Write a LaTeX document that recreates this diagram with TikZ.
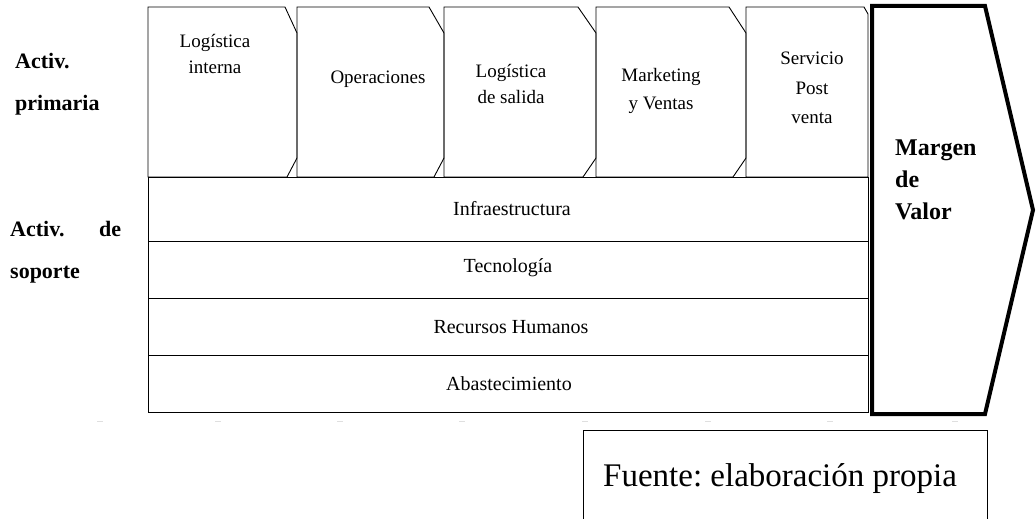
\documentclass[tikz,border=0pt]{standalone}
\usepackage{fontspec}
\setmainfont{Liberation Serif}
\frenchspacing
\begin{document}
\begin{tikzpicture}[x=1pt,y=-1pt,
  thinline/.style={draw=black, line width=0.9pt},
  thickline/.style={draw=black, line width=4pt, line join=miter},
  primtext/.style={font=\fontsize{19}{27}\selectfont, align=center, inner sep=0pt},
  supptext/.style={font=\fontsize{20}{24}\selectfont, inner sep=0pt},
  labtext/.style={font=\bfseries\fontsize{22}{42}\selectfont, inner sep=0pt, align=left},
  faint/.style={draw=gray!25, line width=0.8pt}
]
\useasboundingbox (0,0) rectangle (1036,519);

% primary activity chevrons
\draw[thinline] (148,7) -- (285,7) -- (297,33) -- (297,158) -- (287,177) -- (148,177) -- cycle;
\draw[thinline] (297,7) -- (429,7) -- (444,33) -- (444,158) -- (434,177) -- (297,177) -- cycle;
\draw[thinline] (444,7) -- (578,7) -- (596,33) -- (596,158) -- (583,177) -- (444,177) -- cycle;
\draw[thinline] (596,7) -- (729,7) -- (746,33) -- (746,158) -- (733,177) -- (596,177) -- cycle;
\draw[thinline] (746,7) -- (864,7) -- (868,14) -- (868,177) -- (746,177) -- cycle;

\node[primtext, font=\fontsize{19}{26}\selectfont] (li) at (215,54) {Logística\\interna};
\node[primtext] (op) at (378,79) {Operaciones};
\node[primtext, font=\fontsize{19}{26}\selectfont] (ls) at (511,84) {Logística\\de salida};
\node[primtext, font=\fontsize{19}{28}\selectfont] (mv) at (661,91) {Marketing\\y Ventas};
\node[primtext, font=\fontsize{19}{29.5}\selectfont] (sp) at (812,88) {Servicio\\Post\\venta};

% support rows
\draw[thinline] (148,177) rectangle (868,241);
\draw[thinline] (148,241) rectangle (868,298);
\draw[thinline] (148,298) rectangle (868,355);
\draw[thinline] (148,355) rectangle (868,412);

\node[supptext] (inf) at (512,209) {Infraestructura};
\node[supptext] (tec) at (508,268) {Tecnología};
\node[supptext] (rh) at (511,327) {Recursos Humanos};
\node[supptext] (ab) at (509,384) {Abastecimiento};

% value margin arrow
\draw[thickline] (872,6) -- (985,6) -- (1033,210) -- (985,414) -- (872,414) -- cycle;
\node[font=\bfseries\fontsize{24}{32}\selectfont, inner sep=0pt, align=left, anchor=west] (mv2) at (895,180) {Margen\\de\\Valor};

% left labels
\node[labtext, anchor=west] (ap) at (15,84) {Activ.\\primaria};
\node[labtext, anchor=west, text width=111pt] (as) at (10,252) {Activ.\hfill de\\soporte};

% faint marks
\foreach \xx in {100,218,340,462,585,708,830,955}
  \draw[faint] (\xx-3,421) -- (\xx+3,421);

% source box
\draw[thinline] (583,521) -- (583,430) -- (987,430) -- (987,521);
\node[font=\fontsize{33}{36}\selectfont, inner sep=0pt, anchor=base west] (src) at (603,486) {Fuente: elaboración propia};
\end{tikzpicture}
\end{document}
